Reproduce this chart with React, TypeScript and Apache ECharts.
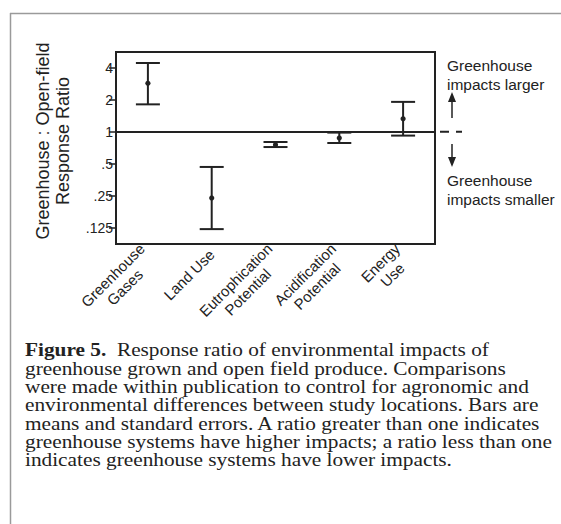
import React, { useEffect, useRef } from "react";
import * as echarts from "echarts";

// ---- data (ratios) ----
const categories = [
  "Greenhouse\nGases",
  "Land Use",
  "Eutrophication\nPotential",
  "Acidification\nPotential",
  "Energy\nUse",
];
const meanRatio = [2.87, 0.24, 0.76, 0.878, 1.33];
const lowRatio = [1.82, 0.122, 0.722, 0.788, 0.925];
const highRatio = [4.46, 0.469, 0.805, 0.987, 1.92];
const tickRatios = [0.125, 0.25, 0.5, 1, 2, 4];
const tickLabels = [".125", ".25", ".5", "1", "2", "4"];

const yTitle = "Greenhouse : Open-field\nResponse Ratio";
const upNote = "Greenhouse\nimpacts larger";
const downNote = "Greenhouse\nimpacts smaller";
const captionLead = "Figure 5.";
const captionLines = [
  "Response ratio of environmental impacts of",
  "greenhouse grown and open field produce. Comparisons",
  "were made within publication to control for agronomic and",
  "environmental differences between study locations. Bars are",
  "means and standard errors. A ratio greater than one indicates",
  "greenhouse systems have higher impacts; a ratio less than one",
  "indicates greenhouse systems have lower impacts.",
];

const SANS = "'Liberation Sans', Arial, Helvetica, sans-serif";
const SERIF = "'Liberation Serif', 'Times New Roman', serif";
const INK = "#222";

export default function App() {
  const ref = useRef<HTMLDivElement>(null);

  useEffect(() => {
    if (!ref.current) return;
    const chart = echarts.init(ref.current, undefined, { renderer: "svg" });

    const tickLogs = tickRatios.map((v) => Math.log2(v));
    const labelFor = (v: number) => {
      const i = tickLogs.findIndex((t) => Math.abs(t - v) < 1e-6);
      return i >= 0 ? tickLabels[i] : "";
    };

    const errData = categories.map((_, i) => [
      i,
      Math.log2(lowRatio[i]),
      Math.log2(meanRatio[i]),
      Math.log2(highRatio[i]),
    ]);

    const capSize = 18.5;
    const captionStep = 18.3;
    const captionGraphics: any[] = captionLines.map((line, i) => ({
      type: "text",
      x: 25,
      y: 341 + i * captionStep,
      scaleX: 1.152,
      style: {
        text: i === 0 ? `{b|${captionLead}}  ${line}` : line,
        font: `${capSize}px ${SERIF}`,
        fontSize: capSize,
        fontFamily: SERIF,
        lineHeight: 18,
        fill: INK,
        rich: {
          b: { fontFamily: SERIF, fontSize: capSize, fontWeight: "bold", fill: INK, lineHeight: 18 },
        },
      },
    }));

    chart.setOption({
      animation: false,
      grid: {
        left: 116,
        top: 52,
        right: 126,
        bottom: 280,
        show: true,
        borderColor: INK,
        borderWidth: 2,
        backgroundColor: "transparent",
      },
      xAxis: {
        type: "category",
        data: categories,
        boundaryGap: true,
        axisLine: { show: true, lineStyle: { color: INK, width: 2 } },
        axisTick: { show: false },
        axisLabel: {
          rotate: 45,
          margin: 8,
          interval: 0,
          formatter: (v: string) =>
            v
              .split("\n")
              .map((s) => `{c|${s}}`)
              .join("\n"),
          rich: {
            c: {
              align: "center",
              fontFamily: SANS,
              fontSize: 15,
              lineHeight: 17,
              color: INK,
            },
          },
        },
      },
      yAxis: {
        type: "value",
        min: -3.5,
        max: 2.5,
        axisLine: { show: true, lineStyle: { color: INK, width: 2 } },
        axisTick: {
          show: true,
          length: 7,
          customValues: tickLogs,
          lineStyle: { color: INK, width: 1.5 },
        },
        axisLabel: {
          customValues: tickLogs,
          formatter: (v: number) => labelFor(v),
          margin: 3,
          fontFamily: SANS,
          fontSize: 14,
          color: INK,
        },
        splitLine: { show: false },
      },
      series: [
        {
          type: "custom",
          data: errData,
          encode: { x: 0, y: [1, 2, 3] },
          renderItem: (params: any, api: any) => {
            const x = api.value(0);
            const pLo = api.coord([x, api.value(1)]);
            const pM = api.coord([x, api.value(2)]);
            const pHi = api.coord([x, api.value(3)]);
            const half = 12;
            const st = { stroke: INK, lineWidth: 2 };
            return {
              type: "group",
              children: [
                { type: "line", shape: { x1: pHi[0], y1: pHi[1], x2: pLo[0], y2: pLo[1] }, style: st },
                { type: "line", shape: { x1: pHi[0] - half, y1: pHi[1], x2: pHi[0] + half, y2: pHi[1] }, style: st },
                { type: "line", shape: { x1: pLo[0] - half, y1: pLo[1], x2: pLo[0] + half, y2: pLo[1] }, style: st },
                { type: "circle", shape: { cx: pM[0], cy: pM[1], r: 2.6 }, style: { fill: INK } },
              ],
            };
          },
          markLine: {
            silent: true,
            symbol: "none",
            label: { show: false },
            lineStyle: { color: INK, width: 2, type: "solid" },
            data: [{ yAxis: 0 }],
          },
        },
      ],
      graphic: [
        // outer frame (left and top)
        { type: "line", shape: { x1: 10.5, y1: 13, x2: 10.5, y2: 524 }, style: { stroke: "#9a9a9a", lineWidth: 1.5 } },
        { type: "line", shape: { x1: 10, y1: 13.5, x2: 561, y2: 13.5 }, style: { stroke: "#9a9a9a", lineWidth: 1.5 } },
        // y-axis title
        {
          type: "text",
          x: 53,
          y: 141,
          rotation: Math.PI / 2,
          style: {
            text: yTitle,
            font: `18px ${SANS}`,
            fontSize: 18,
            fontFamily: SANS,
            lineHeight: 20,
            fill: INK,
            align: "center",
            verticalAlign: "middle",
            textAlign: "center",
            textVerticalAlign: "middle",
          },
        },
        // dashed continuation of ratio = 1
        { type: "line", shape: { x1: 440, y1: 131.7, x2: 462, y2: 131.7 }, style: { stroke: INK, lineWidth: 2, lineDash: [9, 7] } },
        // up arrow
        { type: "line", shape: { x1: 452, y1: 118, x2: 452, y2: 100 }, style: { stroke: INK, lineWidth: 1.5 } },
        { type: "polygon", shape: { points: [[448, 102], [456, 102], [452, 92]] }, style: { fill: INK } },
        // down arrow
        { type: "line", shape: { x1: 452, y1: 144, x2: 452, y2: 159 }, style: { stroke: INK, lineWidth: 1.5 } },
        { type: "polygon", shape: { points: [[448, 157], [456, 157], [452, 167]] }, style: { fill: INK } },
        {
          type: "text",
          x: 447,
          y: 56,
          style: { text: upNote, font: `15.5px ${SANS}`, fontSize: 15.5, fontFamily: SANS, lineHeight: 19, fill: INK },
        },
        {
          type: "text",
          x: 447,
          y: 171,
          style: { text: downNote, font: `15.5px ${SANS}`, fontSize: 15.5, fontFamily: SANS, lineHeight: 19, fill: INK },
        },
        ...captionGraphics,
      ],
    });

    return () => chart.dispose();
  }, []);

  return (
    <div
      ref={ref}
      style={{ position: "fixed", left: 0, top: 0, width: 561, height: 524, background: "#fff" }}
    />
  );
}
